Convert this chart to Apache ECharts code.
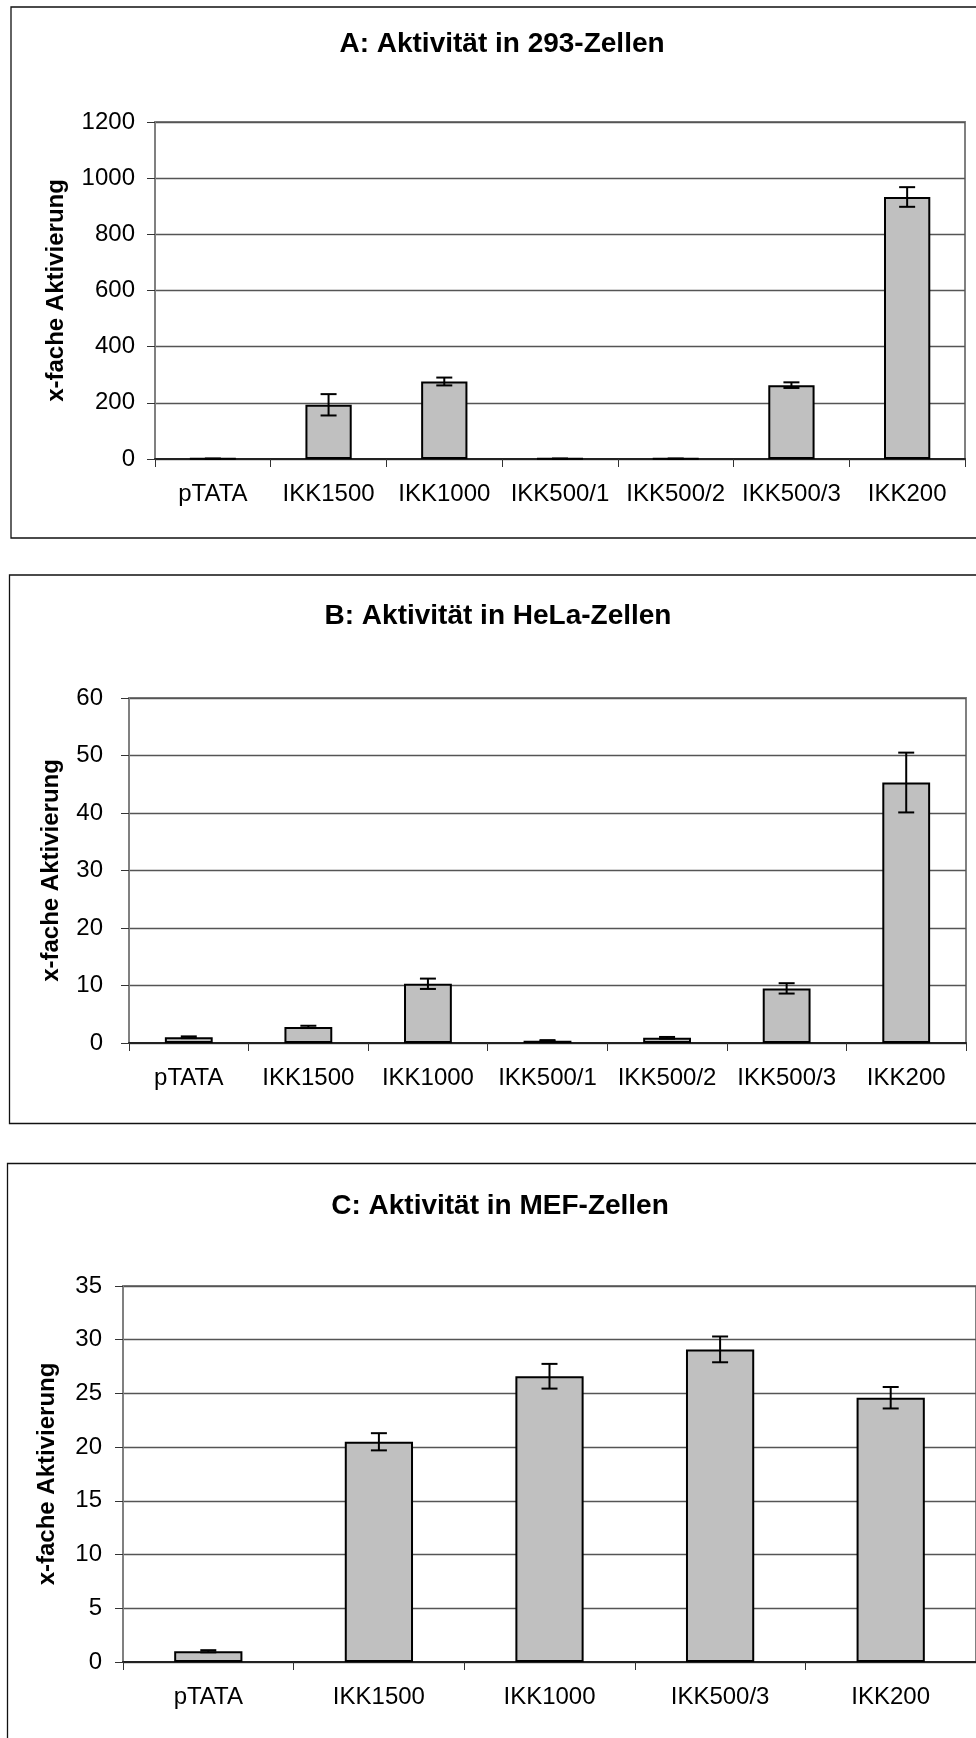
<!DOCTYPE html>
<html>
<head>
<meta charset="utf-8">
<script src="https://cdn.jsdelivr.net/npm/echarts@6/dist/echarts.min.js"></script>
<style>
  html, body { margin: 0; padding: 0; background: #fff; }
  #chart { width: 976px; height: 1738px; }
</style>
</head>
<body>
<div id="chart"></div>
<script>
// Constructs tested in each cell line
const catsAB = ['pTATA', 'IKK1500', 'IKK1000', 'IKK500/1', 'IKK500/2', 'IKK500/3', 'IKK200'];
const catsC = ['pTATA', 'IKK1500', 'IKK1000', 'IKK500/3', 'IKK200'];

// Fold activation (mean) and error (± SD)
const valsA = [1, 193, 276, 1, 1, 263, 933];
const errsA = [0.5, 38, 14, 0.5, 0.5, 10, 35];
const valsB = [1.0, 2.8, 10.3, 0.4, 0.9, 9.5, 45.3];
const errsB = [0.15, 0.2, 0.9, 0.1, 0.15, 0.9, 5.2];
const valsC = [1.0, 20.5, 26.6, 29.1, 24.6];
const errsC = [0.1, 0.8, 1.15, 1.2, 1.0];

// Panel titles and value-axis ranges [max, step]
const titles = ['A: Aktivität in 293-Zellen', 'B: Aktivität in HeLa-Zellen', 'C: Aktivität in MEF-Zellen'];
const yRangeA = [1200, 200];
const yRangeB = [60, 10];
const yRangeC = [35, 5];
const yName = 'x-fache Aktivierung';

const FONT = '"Liberation Sans", Arial, Helvetica, sans-serif';

const panels = [
  { cats: catsAB, vals: valsA, errs: errsA, range: yRangeA,
    grid: { left: 155, top: 122, width: 810, height: 337 },
    labelMargin: 20, nameGap: 87, box: [11, 7, 990, 538], titleXY: [502, 44] },
  { cats: catsAB, vals: valsB, errs: errsB, range: yRangeB,
    grid: { left: 129, top: 698, width: 837, height: 345 },
    labelMargin: 26, nameGap: 66, box: [9.5, 575, 990, 1123.5], titleXY: [498, 616] },
  { cats: catsC, vals: valsC, errs: errsC, range: yRangeC,
    grid: { left: 123, top: 1286, width: 854, height: 376 },
    labelMargin: 21, nameGap: 64, box: [7.5, 1163.5, 990, 1760], titleXY: [500, 1206] }
];

const grids = [], xAxes = [], yAxes = [], series = [], graphics = [];

panels.forEach((p, i) => {
  grids.push(Object.assign({
    show: true, borderColor: '#808080', borderWidth: 2, backgroundColor: 'transparent'
  }, p.grid));

  xAxes.push({
    type: 'category', gridIndex: i, data: p.cats,
    axisLine: { lineStyle: { color: '#222', width: 2 } },
    axisTick: { show: true, length: 8, lineStyle: { color: '#333', width: 1 } },
    axisLabel: { color: '#000', fontFamily: FONT, fontSize: 24, margin: 23, interval: 0 },
    splitLine: { show: false }
  });

  yAxes.push({
    type: 'value', gridIndex: i, min: 0, max: p.range[0], interval: p.range[1],
    name: yName, nameLocation: 'middle', nameRotate: 90, nameGap: p.nameGap,
    nameTextStyle: { color: '#000', fontFamily: FONT, fontSize: 24, fontWeight: 'bold' },
    axisLine: { show: true, lineStyle: { color: '#808080', width: 2 } },
    axisTick: { show: true, length: 8, lineStyle: { color: '#333', width: 1 } },
    axisLabel: {
      color: '#000', fontFamily: FONT, fontSize: 24, margin: p.labelMargin,
      formatter: (v) => String(v)
    },
    splitLine: { show: true, lineStyle: { color: '#555', width: 1.4 } }
  });

  series.push({
    type: 'bar', xAxisIndex: i, yAxisIndex: i, data: p.vals, barWidth: '40%',
    itemStyle: { color: '#c0c0c0', borderColor: '#000', borderWidth: 2 },
    animation: false, z: 3
  });

  // Error bars: vertical whisker with caps
  series.push({
    type: 'custom', xAxisIndex: i, yAxisIndex: i, z: 5, animation: false,
    data: p.vals.map((v, k) => [k, v - p.errs[k], v + p.errs[k]]),
    encode: { x: 0, y: [1, 2] },
    renderItem: (params, api) => {
      const lo = api.coord([api.value(0), api.value(1)]);
      const hi = api.coord([api.value(0), api.value(2)]);
      const half = 8;
      const style = { stroke: '#000', lineWidth: 2 };
      return {
        type: 'group',
        children: [
          { type: 'line', shape: { x1: lo[0], y1: lo[1], x2: hi[0], y2: hi[1] }, style },
          { type: 'line', shape: { x1: hi[0] - half, y1: hi[1], x2: hi[0] + half, y2: hi[1] }, style },
          { type: 'line', shape: { x1: lo[0] - half, y1: lo[1], x2: lo[0] + half, y2: lo[1] }, style }
        ]
      };
    }
  });

  // Frame around each panel
  const b = p.box;
  graphics.push({
    type: 'rect', z: -1,
    shape: { x: b[0], y: b[1], width: b[2] - b[0], height: b[3] - b[1] },
    style: { fill: 'none', stroke: '#111', lineWidth: 1.3 }
  });

  // Panel title
  graphics.push({
    type: 'text', x: p.titleXY[0], y: p.titleXY[1],
    style: {
      text: titles[i], fill: '#000', font: 'bold 28px ' + FONT,
      textAlign: 'center', textVerticalAlign: 'middle'
    }
  });
});

const chart = echarts.init(document.getElementById('chart'), null, { renderer: 'canvas' });
chart.setOption({
  backgroundColor: '#fff',
  animation: false,
  grid: grids,
  xAxis: xAxes,
  yAxis: yAxes,
  series: series,
  graphic: graphics
});
</script>
</body>
</html>
